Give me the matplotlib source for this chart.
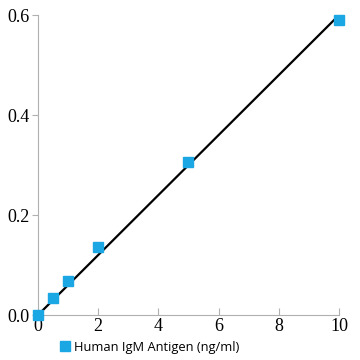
import matplotlib
matplotlib.use("Agg")
import matplotlib.pyplot as plt
from matplotlib.lines import Line2D

plt.rcParams["font.family"] = ["Liberation Serif", "DejaVu Serif"]

conc = [0, 0.5, 1, 2, 5, 10]
od = [0.0, 0.034, 0.068, 0.136, 0.306, 0.59]
fit_x = [0, 10]
fit_y = [0.0, 0.6]
xticks = [0, 2, 4, 6, 8, 10]
yticks = [0.0, 0.2, 0.4, 0.6]
label = "Human IgM Antigen (ng/ml)"

fig = plt.figure(figsize=(3.6, 3.6), dpi=100)
ax = fig.add_axes([0.1056, 0.125, 0.836, 0.833])
ax.plot(fit_x, fit_y, color="black", lw=1.6, zorder=2)
ax.plot(conc, od, ls="none", marker="s", ms=7.2, color="#1ba7e4", zorder=3, clip_on=False)
ax.set_xlim(0, 10)
ax.set_ylim(0, 0.6)
ax.set_xticks(xticks)
ax.set_yticks(yticks)
ax.set_xticklabels([str(t) for t in xticks])
ax.set_yticklabels(["%.1f" % t for t in yticks])
for s in ["top", "right"]:
    ax.spines[s].set_visible(False)
for s in ["left", "bottom"]:
    ax.spines[s].set_color("#b0b0b0")
    ax.spines[s].set_linewidth(0.8)
ax.tick_params(axis="x", direction="in", length=5, color="#b0b0b0", pad=2, labelsize=13)
ax.tick_params(axis="y", direction="out", length=4, color="#b0b0b0", pad=2, labelsize=13)

handle = Line2D([], [], ls="none", marker="s", ms=7, color="#1ba7e4")
fig.legend([handle], [label], loc="center left", bbox_to_anchor=(0.13, 0.035),
           frameon=False, handletextpad=0.2, handlelength=1.0,
           prop={"family": "Open Sans", "size": 9.3})
fig.savefig("out.png", dpi=100)
